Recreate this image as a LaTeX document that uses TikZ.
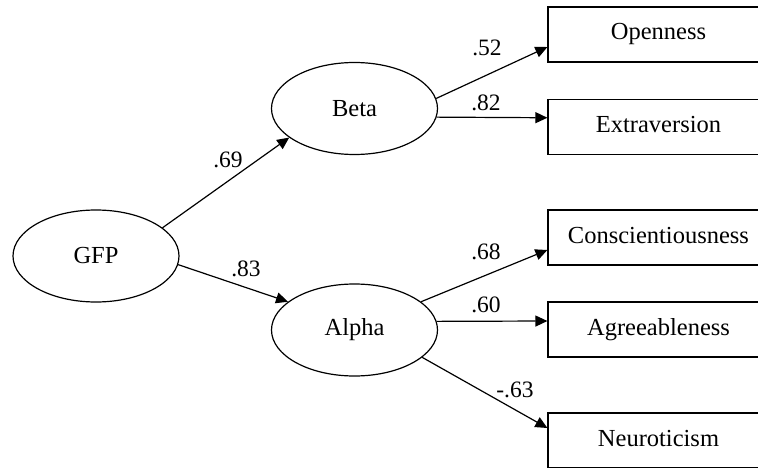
\documentclass[tikz,border=0pt]{standalone}
\usepackage{fontspec}
\setmainfont{Liberation Serif}
\usetikzlibrary{shapes.geometric,arrows.meta}
\begin{document}
\begin{tikzpicture}[x=1pt,y=1pt,
  latent/.style={ellipse,draw,line width=1.2pt,inner sep=0pt,minimum width=166pt,minimum height=92pt,font=\fontsize{24.5}{28}\selectfont},
  obs/.style={rectangle,draw,line width=1.2pt,minimum width=221pt,minimum height=55pt,inner sep=0pt,text height=16pt,text depth=5pt,font=\fontsize{24.5}{28}\selectfont},
  pathar/.style={-{Triangle[length=12pt,width=11pt]},line width=1.2pt},
  lbl/.style={inner sep=0pt,font=\fontsize{23.5}{27}\selectfont}]
\useasboundingbox (0,-468) rectangle (758,0);
\clip (0,-468) rectangle (758,0);
\fill[white] (0,-468) rectangle (758,0);
% latent variables
\node[latent] (gfp) at (96,-256) {GFP};
\node[latent] (beta) at (354.5,-108.5) {Beta};
\node[latent] (alpha) at (354.5,-330) {Alpha};
% observed variables
\node[obs] (open) at (658.5,-34.5) {Openness};
\node[obs] (extra) at (658.5,-127) {Extraversion};
\node[obs] (consc) at (658.5,-237.5) {Conscientiousness};
\node[obs] (agree) at (658.5,-329.5) {Agreeableness};
\node[obs] (neuro) at (658.5,-440.5) {Neuroticism};
% paths
\draw[pathar] (gfp.23) -- (beta.204);
\draw[pathar] (gfp.-6) -- (alpha.157);
\draw[pathar] (beta.7) -- ([yshift=-12.5pt]open.west);
\draw[pathar] (beta.-6.44) -- ([yshift=9.25pt]extra.west);
\draw[pathar] (alpha.23.3) -- ([yshift=-12.5pt]consc.west);
\draw[pathar] (alpha.6.26) -- ([yshift=8.5pt]agree.west);
\draw[pathar] (alpha.-22.8) -- ([yshift=12.5pt]neuro.west);
% labels
\node[lbl] (l52) at (487,-48) {.52};
\node[lbl] (l82) at (486,-103) {.82};
\node[lbl] (l69) at (228,-160) {.69};
\node[lbl] (l83) at (246,-269) {.83};
\node[lbl] (l68) at (486,-252) {.68};
\node[lbl] (l60) at (486,-305) {.60};
\node[lbl] (l63) at (515,-390) {-.63};
\end{tikzpicture}
\end{document}
